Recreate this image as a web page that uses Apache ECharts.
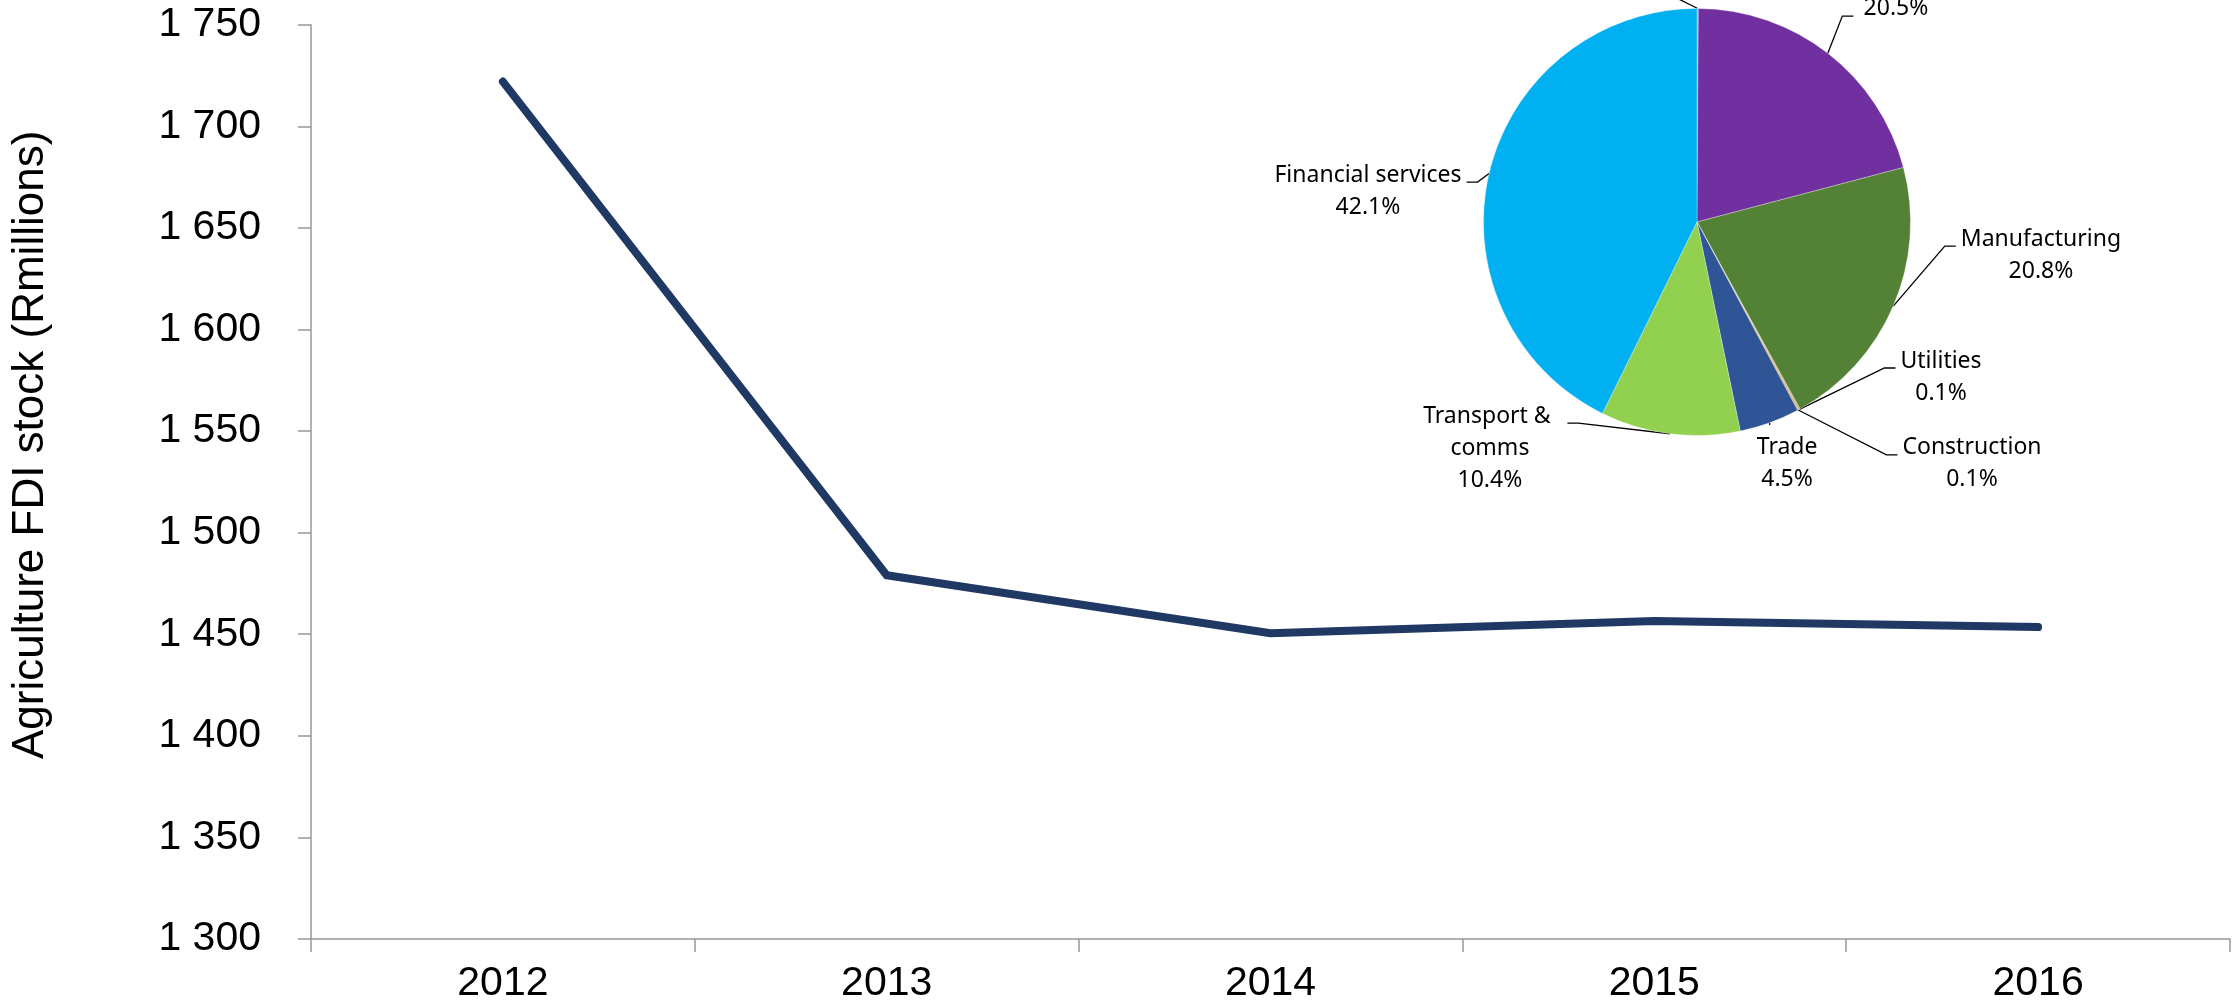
<!DOCTYPE html>
<html>
<head>
<meta charset="utf-8">
<script src="https://cdn.jsdelivr.net/npm/echarts@6/dist/echarts.min.js"></script>
<style>
  html, body { margin: 0; padding: 0; background: #fff; }
  #chart { width: 2234px; height: 1005px; }
</style>
</head>
<body>
<div id="chart"></div>
<script>
// ---- data ----
const years = ['2012', '2013', '2014', '2015', '2016'];
const fdiStock = [1722, 1479, 1450.5, 1456.5, 1453.5];
const yMin = 1300, yMax = 1750, yStep = 50;
const yAxisTitle = 'Agriculture FDI stock (Rmillions)';

const sectorNames = ['Agriculture', 'Mining', 'Manufacturing', 'Utilities', 'Construction', 'Trade', 'Transport & comms', 'Financial services'];
const sectorShares = [0.1, 20.5, 20.8, 0.1, 0.1, 4.5, 10.4, 42.1];

// ---- styling / layout ----
const sectorColors = ['#A5A5A5', '#7030A0', '#538135', '#C9A46A', '#BF9B5A', '#2F5597', '#92D050', '#00B0F0'];
const PIE_CX = 1697, PIE_CY = 222, PIE_R = 213.5;
const labelPlace = {
  'Agriculture':        { dx: -0.9,   dy: -1.23,  side: 'left' },
  'Mining':             { dx: 0.932,  dy: -1.077, side: 'right', attach: 'last' },
  'Manufacturing':      { dx: 1.611,  dy: 0.155,  side: 'right' },
  'Utilities':          { dx: 1.143,  dy: 0.726,  side: 'right' },
  'Construction':       { dx: 1.288,  dy: 1.133,  side: 'right' },
  'Trade':              { dx: 0.422,  dy: 1.129,  side: 'top' },
  'Transport & comms':  { dx: -0.970, dy: 1.059,  side: 'left', wrap: 145 },
  'Financial services': { dx: -1.541, dy: -0.145, side: 'left' }
};

const pieData = sectorNames.map((n, i) => {
  const item = { name: n, value: sectorShares[i], itemStyle: { color: sectorColors[i] } };
  if (labelPlace[n].wrap) item.label = { width: labelPlace[n].wrap, overflow: 'break' };
  return item;
});

function spaceThousands(v) {
  return String(v).replace(/\B(?=(\d{3})+(?!\d))/g, ' ');
}

const chart = echarts.init(document.getElementById('chart'), null, { renderer: 'canvas' });
chart.setOption({
  animation: false,
  backgroundColor: '#ffffff',
  grid: { left: 311, right: 4, top: 24.7, bottom: 66, containLabel: false },
  xAxis: {
    type: 'category',
    data: years,
    boundaryGap: true,
    axisLine: { show: true, lineStyle: { color: '#989898', width: 1.5 } },
    axisTick: { show: true, length: 13, inside: false, lineStyle: { color: '#989898', width: 1.5 } },
    axisLabel: { color: '#000', fontFamily: 'Liberation Sans, Arial', fontSize: 41, margin: 24 },
    splitLine: { show: false }
  },
  yAxis: {
    type: 'value',
    min: yMin, max: yMax, interval: yStep,
    name: yAxisTitle,
    nameLocation: 'middle',
    nameRotate: 90,
    nameGap: 258,
    nameTextStyle: { color: '#000', fontFamily: 'Liberation Sans, Arial', fontSize: 44, padding: [0, 0, 0, 74] },
    axisLine: { show: true, lineStyle: { color: '#989898', width: 1.5 } },
    axisTick: { show: true, length: 13, inside: false, lineStyle: { color: '#989898', width: 1.5 } },
    axisLabel: { color: '#000', fontFamily: 'Liberation Sans, Arial', fontSize: 41, margin: 50, formatter: spaceThousands },
    splitLine: { show: false }
  },
  series: [
    {
      type: 'line',
      data: fdiStock,
      showSymbol: false,
      symbol: 'none',
      smooth: false,
      lineStyle: { color: '#1F3864', width: 8, cap: 'round', join: 'miter' },
      z: 2
    },
    {
      type: 'pie',
      center: [PIE_CX, PIE_CY],
      radius: PIE_R,
      startAngle: 90,
      clockwise: true,
      avoidLabelOverlap: false,
      data: pieData,
      itemStyle: { borderColor: 'rgba(255,255,255,0.6)', borderWidth: 0.5 },
      label: {
        show: true,
        position: 'outside',
        color: '#000',
        fontFamily: 'Noto Sans',
        fontSize: 23,
        lineHeight: 32,
        align: 'center',
        formatter: p => p.name + '\n' + p.value.toFixed(1) + '%'
      },
      labelLine: { show: true, length: 10, length2: 10, lineStyle: { color: '#000', width: 1.3 } },
      labelLayout: function (p) {
        const name = sectorNames[p.dataIndex];
        const c = labelPlace[name];
        const w = p.labelRect.width, h = p.labelRect.height;
        const x = PIE_CX + c.dx * PIE_R, y = PIE_CY + c.dy * PIE_R;
        const top = y - h / 2, left = x - w / 2, right = x + w / 2;
        const a = (p.labelLinePoints && p.labelLinePoints[0]) || [PIE_CX, PIE_CY];
        let pts;
        if (c.side === 'top') {
          pts = [a, [a[0], top - 6], [a[0], top - 6]];
        } else {
          const ay = c.attach === 'last' ? top + h - 8 : top + 23;
          if (c.side === 'right') pts = [a, [left - 16, ay], [left - 5, ay]];
          else pts = [a, [right + 16, ay], [right + 5, ay]];
        }
        return { x: x, y: y, align: 'center', verticalAlign: 'middle', labelLinePoints: pts };
      },
      z: 3
    }
  ]
});
</script>
</body>
</html>
